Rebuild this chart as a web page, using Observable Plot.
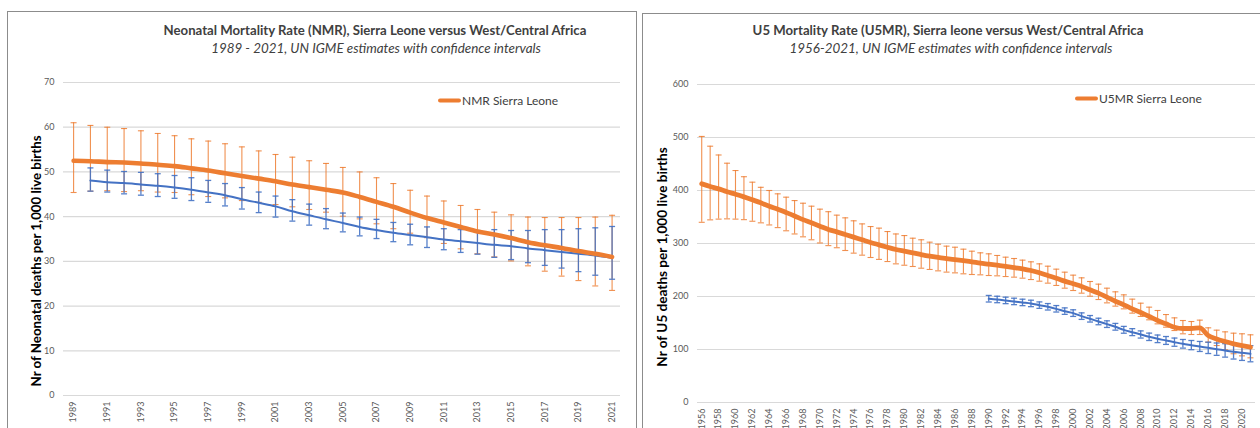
<!DOCTYPE html>
<html><head><meta charset="utf-8">
<script src="https://cdn.jsdelivr.net/npm/d3@7"></script>
<script src="https://cdn.jsdelivr.net/npm/@observablehq/plot@0.6"></script>
<style>
html,body{margin:0;padding:0;background:#fff;overflow:hidden;}
#root{position:relative;width:1260px;height:428px;overflow:hidden;font-family:Lato,"Open Sans",sans-serif;background:#fff;}
.panel{position:absolute;border:1.5px solid #8c8c8c;box-sizing:border-box;}
.title{position:absolute;font-weight:bold;font-size:13.2px;color:#404040;white-space:nowrap;transform:translate(-50%,-50%);}
.sub{position:absolute;font-style:italic;font-size:13.4px;color:#404040;white-space:nowrap;transform:translate(-50%,-50%);}
.ytitle{position:absolute;font-weight:bold;font-size:13.3px;color:#000;white-space:nowrap;transform:translate(-50%,-50%) rotate(-90deg);}
.legend{position:absolute;font-size:12px;color:#404040;white-space:nowrap;display:flex;align-items:center;transform:translateY(-50%);}
.legend .sw{display:inline-block;width:23px;height:4px;background:#ED7D31;margin-right:1px;border-radius:2px;}
.plot{position:absolute;top:0;}
</style>
</head><body>
<div id="root">
  <div class="panel" style="left:7px;top:11px;width:630px;height:500px;"></div>
  <div class="panel" style="left:642px;top:13px;width:700px;height:500px;"></div>
  <div id="p1" class="plot" style="left:0px;width:640px;"></div>
  <div id="p2" class="plot" style="left:640px;width:620px;"></div>
  <div class="title" style="left:375px;top:30px;">Neonatal Mortality Rate (NMR), Sierra Leone versus West/Central Africa</div>
  <div class="sub" style="left:376px;top:48px;">1989 - 2021, UN IGME estimates with confidence intervals</div>
  <div class="ytitle" style="left:36px;top:261px;">Nr of Neonatal deaths per 1,000 live births</div>
  <div class="legend" style="left:438px;top:100px;"><span class="sw"></span>NMR Sierra Leone</div>
  <div class="title" style="left:948px;top:30px;">U5 Mortality Rate (U5MR), Sierra leone versus West/Central Africa</div>
  <div class="sub" style="left:951px;top:48px;">1956-2021, UN IGME estimates with confidence intervals</div>
  <div class="ytitle" style="left:662px;top:257px;font-size:13.6px;">Nr of U5 deaths per 1,000 live births</div>
  <div class="legend" style="left:1075px;top:98px;"><span class="sw"></span>U5MR Sierra Leone</div>
</div>
<script>
// ---------- NMR data ----------
const nmrYearsSL = d3.range(1989, 2022);
const nmrSL = [52.5,52.4,52.2,52.1,51.9,51.6,51.3,50.8,50.3,49.7,49.1,48.5,47.9,47.2,46.6,46.0,45.4,44.4,43.3,42.2,40.9,39.7,38.7,37.7,36.7,36.0,35.2,34.3,33.6,33.0,32.3,31.7,31.0];
const nmrSLHi = [61.0,60.4,60.0,59.7,59.2,58.6,58.1,57.4,56.9,56.3,55.6,54.7,53.9,53.3,52.5,51.9,51.0,50.0,48.7,47.4,45.9,44.6,43.5,42.5,41.6,41.0,40.4,39.9,39.8,39.8,39.8,39.9,40.3];
const nmrSLLo = [45.4,45.7,45.8,45.6,45.8,45.5,45.4,44.9,44.5,44.2,43.6,43.2,42.7,42.2,41.6,41.0,40.1,39.5,38.4,37.3,36.3,35.3,34.0,32.8,31.7,31.0,30.1,29.0,27.8,26.7,25.7,24.5,23.5];
const nmrYearsWCA = d3.range(1990, 2022);
const nmrWCA = [48.1,47.7,47.5,47.2,46.9,46.5,46.0,45.4,44.8,43.9,43.1,42.3,41.2,40.3,39.4,38.6,37.7,37.0,36.4,35.9,35.4,34.9,34.5,34.1,33.7,33.4,32.9,32.5,32.1,31.7,31.3,30.8];
const nmrWCAHi = [50.9,50.4,50.1,49.9,49.6,49.2,48.7,48.1,47.4,46.5,45.5,44.6,43.8,42.8,41.8,40.8,39.9,39.4,38.7,38.3,37.7,37.3,37.1,36.9,37.1,36.9,36.9,37.1,37.1,37.3,37.5,37.8];
const nmrWCALo = [45.7,45.5,45.1,44.8,44.5,44.1,43.6,43.2,42.4,41.7,40.9,39.9,39.0,38.1,37.3,36.6,35.7,35.1,34.4,33.7,33.1,32.6,32.0,31.6,30.9,30.4,29.7,29.1,28.5,27.7,26.9,26.0];
const nmrYTicks = [0,10,20,30,40,50,60,70];
const nmrXTicks = d3.range(1989, 2022, 2);

// ---------- U5MR data ----------
const u5YearsSL = d3.range(1956, 2022);
const u5SL = [412.6,407.5,403,397.5,393,388,382.4,376.7,370.4,364.8,358.5,352,345,339,332.7,326.4,322,317,312,307,302,297.5,293,288.7,285.5,282.4,279,276,273.6,271.5,269.5,267.5,265.4,262.9,261,259,257,254.7,252.2,249,244.7,239.6,234.6,229,224,218.9,212.6,206.3,198.7,191,184.3,176.7,169.8,162.3,154.7,148.4,142,139.6,139.6,140.9,126.4,120,115,110.7,107.5,104.4];
const u5SLHi = [502,483.6,467,451.5,437.7,426,415.7,406,400,393.7,387.4,381,376,370.4,364.8,360,353.5,348.4,342.8,337,332,329,322.6,318,315,310,307,302.5,298.7,295,293,289.3,285.5,282.4,280.5,277.4,274.2,271.7,268.6,265.4,261.6,257.2,251.6,245.9,240.3,235.2,228.3,223.3,215.7,208.8,203.1,195,187.4,179.9,173.6,166,159.7,154.7,152.8,155.4,140.9,136.5,133.3,130.8,129.6,127.7];
const u5SLLo = [340,344.6,346,346.5,346,345,342,339,335,330,324,318,312.6,307,301,296,292,286.8,281.8,278,273.6,270,266,261.6,259,256.6,253.4,251,248.4,246,244.6,242.8,241.5,240.9,239.6,239,237.7,236.5,234.6,232,228.9,225.2,220.8,215.7,211.3,206.3,200.6,194.3,188,181.8,176.7,168.6,162.3,156,148.4,142.1,135.8,129.6,128.3,128.3,113.8,107.5,99.4,92,88,84.3];
const u5YearsWCA = d3.range(1990, 2022);
const u5WCA = [195.6,194.3,192.5,190.6,188.7,186.8,183.6,180.5,176.7,172.3,168.6,162.9,157.9,152.8,147.8,142.8,137.1,132.7,128.3,123.9,120.1,117.0,113.8,110.7,108.2,105.7,103.1,100.6,98.1,95.6,93.7,91.8];
const u5WCAHi = [202.0,200.5,198.7,196.8,194.9,193.0,189.8,186.7,182.9,178.5,174.9,169.1,164.1,159.0,154.1,149.2,143.6,139.3,135.1,130.9,127.3,124.5,121.6,118.9,117.0,115.2,113.8,112.3,111.0,109.5,108.5,107.3];
const u5WCALo = [189.6,188.3,186.5,184.6,182.7,180.8,177.6,174.5,170.7,166.3,162.4,156.8,151.8,146.7,141.6,136.5,130.7,126.2,121.6,117.0,113.0,109.6,106.1,102.6,99.6,96.3,92.4,89.0,85.6,82.0,79.4,76.8];
const u5YTicks = [0,100,200,300,400,500,600];
const u5XTicks = d3.range(1956, 2021, 2);

const ORANGE = "#ED7D31", BLUE = "#4472C4";
const cap = {draw(ctx, size){ const w = Math.sqrt(size/Math.PI); ctx.moveTo(-w,0); ctx.lineTo(w,0); }};

function rows(years, v, lo, hi){ return years.map((year,i)=>({year, v:v[i], lo:lo[i], hi:hi[i]})); }

function errorMarks(data, color, width, opacity){
  return [
    Plot.ruleX(data, {x:"year", y1:"lo", y2:"hi", stroke:color, strokeWidth:width, strokeOpacity:opacity}),
    Plot.dot(data, {x:"year", y:"hi", symbol:cap, r:3, fill:"none", stroke:color, strokeWidth:width, strokeOpacity:opacity}),
    Plot.dot(data, {x:"year", y:"lo", symbol:cap, r:3, fill:"none", stroke:color, strokeWidth:width, strokeOpacity:opacity})
  ];
}

function chart({width, height, mL, mR, mT, mB, xDomain, yDomain, yTicks, xTicks, sl, wca, slWidth}){
  return Plot.plot({
    width, height, marginLeft:mL, marginRight:mR, marginTop:mT, marginBottom:mB,
    style:{background:"transparent", fontFamily:"Lato, 'Open Sans', sans-serif", overflow:"visible"},
    x:{domain:xDomain},
    y:{domain:yDomain},
    marks:[
      Plot.gridY(yTicks, {stroke:"#d9d9d9", strokeOpacity:1, strokeWidth:1.2}),
      Plot.axisY(yTicks, {tickSize:0, tickPadding:9, fontSize:9, fill:"#595959", label:null}),
      Plot.axisX(xTicks, {tickSize:0, tickPadding:6, tickRotate:-90, tickFormat:d=>String(d), fontSize:9, fill:"#595959", label:null}),
      ...errorMarks(sl, ORANGE, 1.1, 0.85),
      ...errorMarks(wca, BLUE, 1.3, 0.9),
      Plot.line(wca, {x:"year", y:"v", stroke:BLUE, strokeWidth:2, curve:"monotone-x"}),
      Plot.line(sl, {x:"year", y:"v", stroke:ORANGE, strokeWidth:slWidth, curve:"monotone-x"})
    ]
  });
}

document.getElementById("p1").append(chart({
  width:640, height:428, mL:63, mR:20, mT:82, mB:33,
  xDomain:[1988.4, 2021.5], yDomain:[0,70], yTicks:nmrYTicks, xTicks:nmrXTicks,
  sl: rows(nmrYearsSL, nmrSL, nmrSLLo, nmrSLHi),
  wca: rows(nmrYearsWCA, nmrWCA, nmrWCALo, nmrWCAHi),
  slWidth:4.6
}));

document.getElementById("p2").append(chart({
  width:620, height:428, mL:57, mR:5, mT:84, mB:26,
  xDomain:[1955.5, 2021.6], yDomain:[0,600], yTicks:u5YTicks, xTicks:u5XTicks,
  sl: rows(u5YearsSL, u5SL, u5SLLo, u5SLHi),
  wca: rows(u5YearsWCA, u5WCA, u5WCALo, u5WCAHi),
  slWidth:4.8
}));
</script>
</body></html>
